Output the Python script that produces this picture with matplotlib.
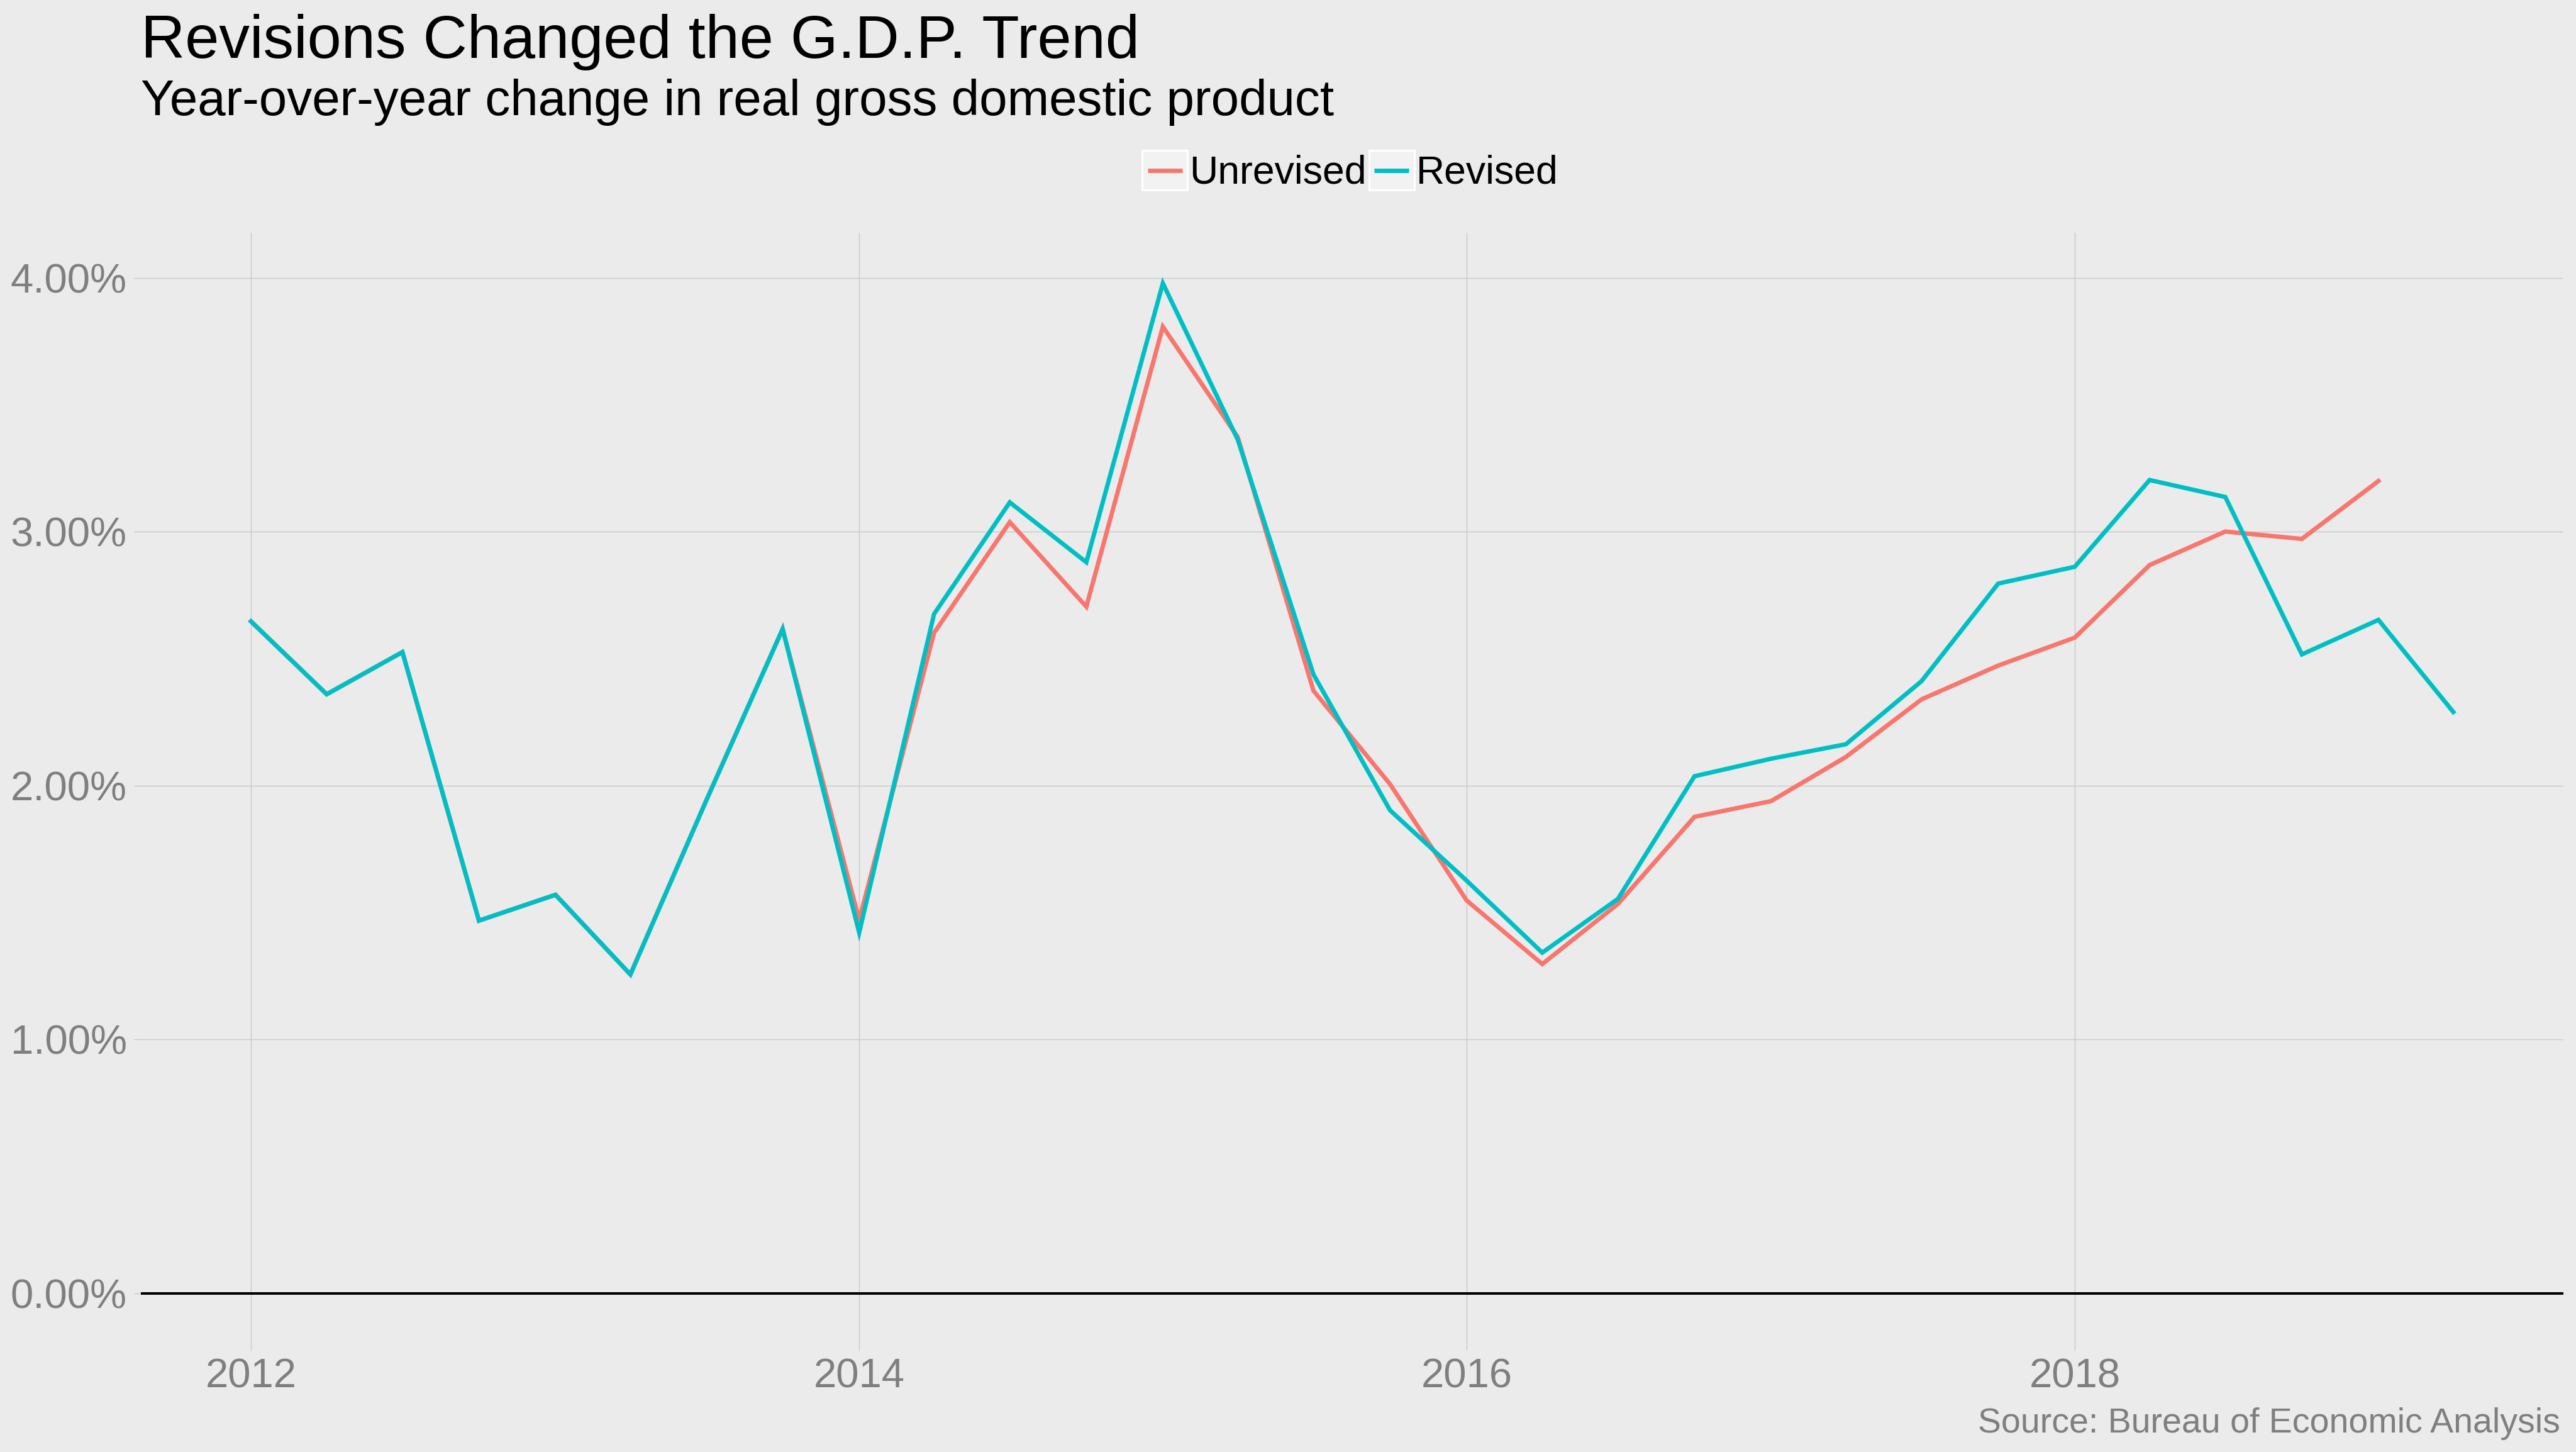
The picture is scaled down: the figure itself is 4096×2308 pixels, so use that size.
import matplotlib
matplotlib.use('Agg')
import matplotlib.pyplot as plt
import matplotlib.dates as mdates
from matplotlib.legend_handler import HandlerLine2D
from matplotlib.lines import Line2D
from matplotlib.patches import Rectangle
import pandas as pd

# quarterly year-over-year change in real GDP, %
quarters_revised = pd.date_range('2012-01-01', periods=30, freq='QS')
quarters_unrevised = pd.date_range('2012-01-01', periods=29, freq='QS')

revised = [2.647, 2.360, 2.526, 1.468, 1.570, 1.256, 1.94, 2.617,
           1.421, 2.676, 3.116, 2.880, 3.979, 3.363, 2.438, 1.903,
           1.626, 1.342, 1.554, 2.037, 2.106, 2.163, 2.412, 2.796,
           2.862, 3.204, 3.137, 2.517, 2.653, 2.290]
unrevised = [2.647, 2.360, 2.526, 1.468, 1.570, 1.256, 1.94, 2.617,
             1.47, 2.602, 3.038, 2.705, 3.808, 3.373, 2.374, 2.006,
             1.548, 1.297, 1.534, 1.877, 1.939, 2.113, 2.340, 2.473,
             2.583, 2.869, 3.001, 2.972, 3.200]

series_names = ['Unrevised', 'Revised']
series_colors = ['#F8766D', '#00BFC4']
y_ticks = [0, 1, 2, 3, 4]
x_tick_years = [2012, 2014, 2016, 2018]

BG = '#EBEBEB'
GRID = '#C8C8C8'
GREY_TXT = '#7F7F7F'

plt.rcParams['font.family'] = ['Liberation Sans', 'DejaVu Sans']


class BoxedLine(HandlerLine2D):
    # ggplot-like legend key: light box with white border and a line
    def create_artists(self, legend, orig_handle, xdescent, ydescent,
                       width, height, fontsize, trans):
        box = Rectangle((-xdescent, -ydescent), width, height,
                        facecolor='#F2F2F2', edgecolor='white', lw=2.2,
                        transform=trans)
        y = -ydescent + height / 2
        ln = Line2D([-xdescent + 0.12 * width, -xdescent + 0.88 * width], [y, y],
                    color=orig_handle.get_color(), lw=orig_handle.get_linewidth(),
                    solid_capstyle='butt', transform=trans)
        return [box, ln]


fig = plt.figure(figsize=(40.96, 23.08), dpi=100, facecolor=BG)
ax = fig.add_axes([224 / 4096, 172 / 2308, 3852 / 4096, 1766 / 2308])
ax.set_facecolor(BG)

h_un, = ax.plot(quarters_unrevised, unrevised, color=series_colors[0], lw=5.0,
                label=series_names[0], solid_joinstyle='miter')
h_re, = ax.plot(quarters_revised, revised, color=series_colors[1], lw=5.0,
                label=series_names[1], solid_joinstyle='miter')
ax.axhline(0, color='black', lw=2.9, zorder=3)

# ggplot default expansion 5%
x0, x1 = mdates.date2num(quarters_revised[0]), mdates.date2num(quarters_revised[-1])
pad = (x1 - x0) * 0.05
ax.set_xlim(x0 - pad, x1 + pad)
ymax = max(revised)
ax.set_ylim(-0.05 * ymax, ymax * 1.05)

ax.set_yticks(y_ticks)
ax.set_yticklabels([f'{v:.2f}%' for v in y_ticks])
ax.set_xticks([mdates.date2num(pd.Timestamp(f'{y}-01-01')) for y in x_tick_years])
ax.set_xticklabels([str(y) for y in x_tick_years])

ax.grid(True, color=GRID, lw=1.0)
ax.set_axisbelow(True)
for s in ax.spines.values():
    s.set_visible(False)
ax.tick_params(axis='both', colors=GRID, length=8, width=1.0,
               labelcolor=GREY_TXT, labelsize=47)
ax.tick_params(axis='y', pad=8)
ax.tick_params(axis='x', pad=8)

fig.text(224 / 4096, 1 - 92 / 2308, 'Revisions Changed the G.D.P. Trend',
         fontsize=70, color='black', va='baseline', ha='left')
fig.text(224 / 4096, 1 - 183 / 2308, 'Year-over-year change in real gross domestic product',
         fontsize=57.5, color='black', va='baseline', ha='left')
fig.text(4071 / 4096, 1 - 2277 / 2308, 'Source: Bureau of Economic Analysis',
         fontsize=40, color=GREY_TXT, va='baseline', ha='right')

fig.legend(handles=[h_un, h_re], loc='center', bbox_to_anchor=(2147 / 4096, 1 - 272 / 2308),
           ncol=2, frameon=False, fontsize=45, borderpad=0, borderaxespad=0,
           handlelength=1.15, handleheight=1.17, handletextpad=0.05, columnspacing=0.06,
           handler_map={Line2D: BoxedLine()})

plt.savefig('out.png', dpi=100, facecolor=BG)
plt.close('all')
